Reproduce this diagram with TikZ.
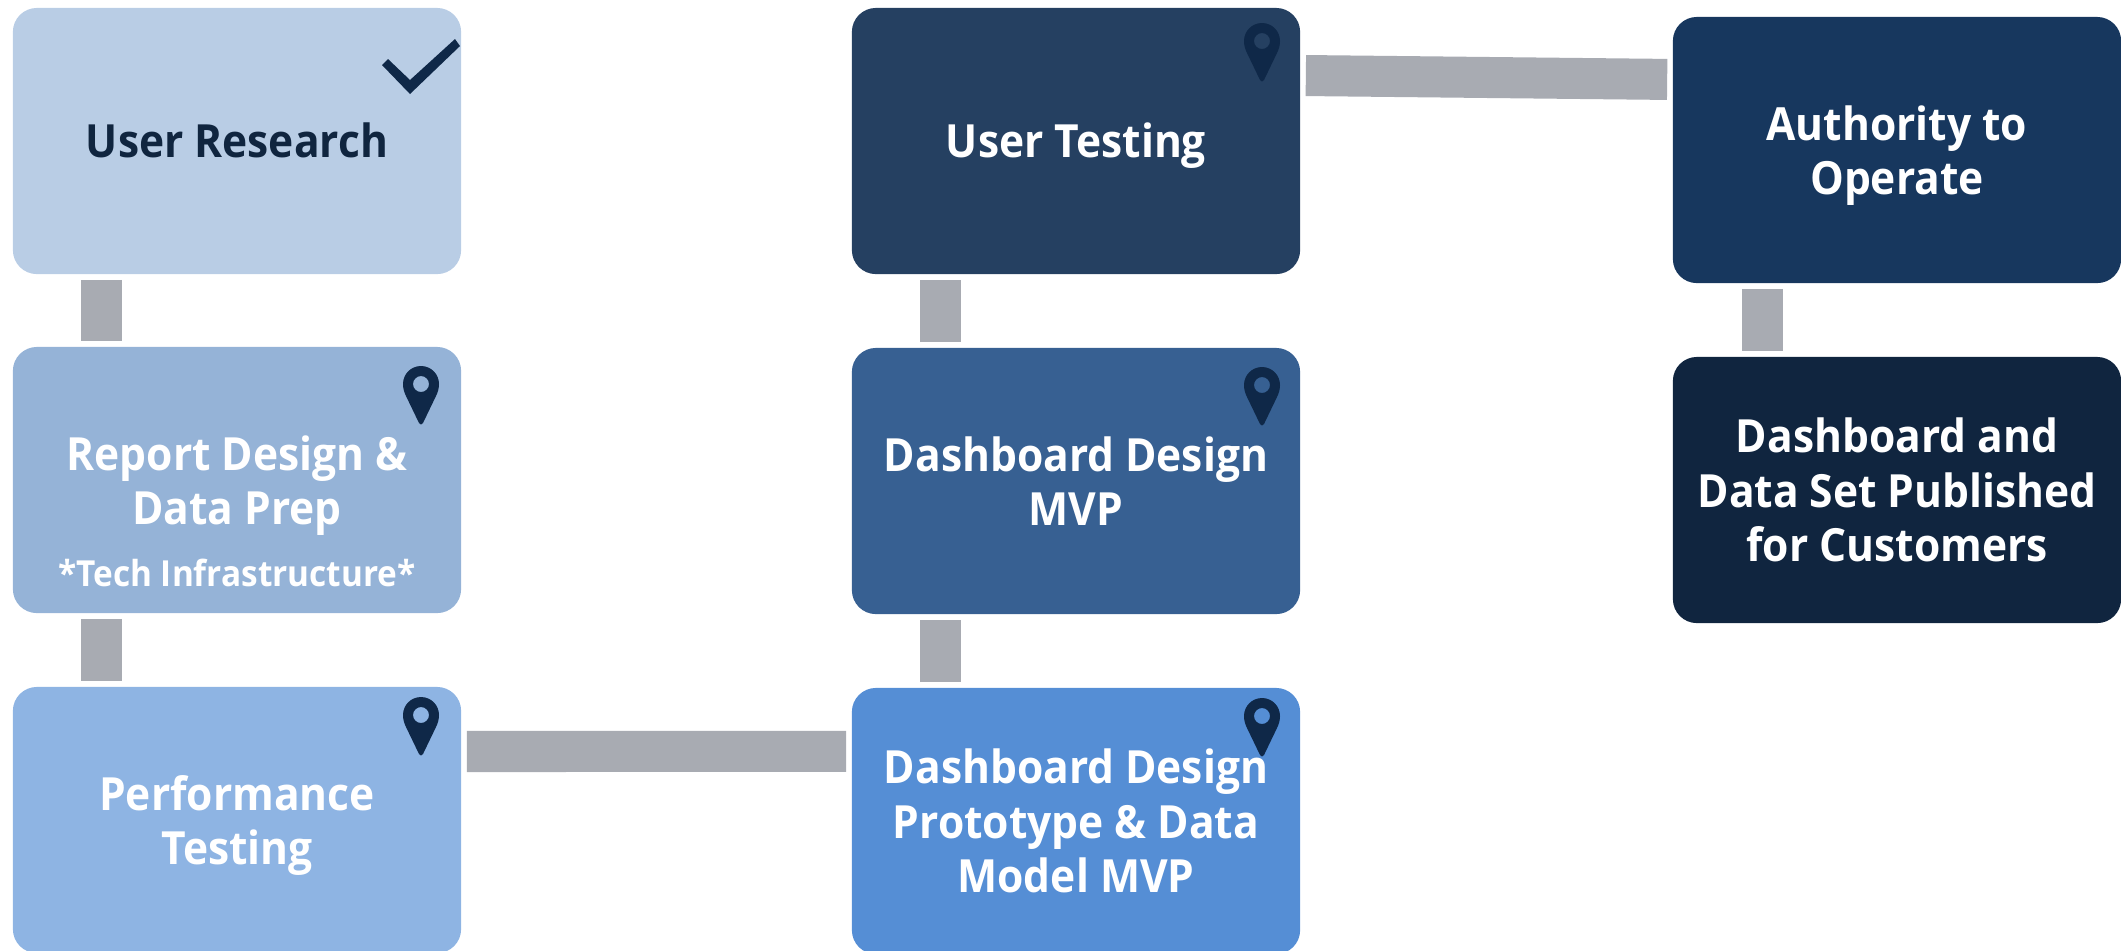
\documentclass[tikz,border=0pt]{standalone}
\usepackage{fontspec}
\setmainfont[FakeStretch=0.93]{Open Sans}
\definecolor{boxa}{HTML}{B9CDE5}
\definecolor{boxb}{HTML}{95B3D7}
\definecolor{boxc}{HTML}{8EB4E3}
\definecolor{boxd}{HTML}{558ED5}
\definecolor{boxe}{HTML}{376092}
\definecolor{boxf}{HTML}{254061}
\definecolor{boxg}{HTML}{17375E}
\definecolor{boxh}{HTML}{10253F}
\definecolor{linkgray}{HTML}{A8ABB2}
\definecolor{markcol}{HTML}{0F2848}
\begin{document}
\begin{tikzpicture}[x=0.01cm,y=-0.01cm,
		stage/.style={rounded corners=0.24cm, minimum width=4.48cm, minimum height=2.66cm, inner sep=0pt,
			align=center, text=white, font=\bfseries\fontsize{13}{15.5}\selectfont,
			execute at begin node={\rule{0pt}{13pt}}, execute at end node={\rule[-3.7pt]{0pt}{3.7pt}}},
		stacked/.style={text depth=0pt},
		note/.style={inner sep=0pt, text=white, font=\bfseries\fontsize{10.2}{12}\selectfont},
		link/.style={draw=linkgray, line width=0.41cm, shorten <=0.05cm, shorten >=0.05cm},
		pin/.pic={\fill[markcol, even odd rule] (-18,0) .. controls (-18,-10) and (-10,-18) .. (0,-18)
			.. controls (10,-18) and (18,-10) .. (18,0) .. controls (18,4) and (17,8) .. (15,12)
			-- (2,39) .. controls (1,41) and (-1,41) .. (-2,39) -- (-15,12)
			.. controls (-17,8) and (-18,4) .. (-18,0) (0,0) circle [radius=8];}]
	\useasboundingbox (0,0) rectangle (2121,950);

	\node[stage, fill=boxa, text=boxh] (research) at (237,141) {User Research};
	\node[stage, stacked, fill=boxb] (prep) at (237,480) {Report Design \&\\Data Prep};
	\node[note] (prepnote) at (237,573) {*Tech Infrastructure*};
	\node[stage, stacked, fill=boxc] (perf) at (237,820) {Performance\\Testing};

	\node[stage, stacked, fill=boxd] (proto) at (1076,821) {Dashboard Design\\Prototype \& Data\\Model MVP};
	\node[stage, stacked, fill=boxe] (mvp) at (1076,481) {Dashboard Design\\MVP};
	\node[stage, fill=boxf] (testing) at (1076,141) {User Testing};

	\node[stage, stacked, fill=boxg] (ato) at (1897,150) {Authority to\\Operate};
	\node[stage, stacked, fill=boxh] (publish) at (1897,490) {Dashboard and\\Data Set Published\\for Customers};

	\draw[link] ([xshift=-1.355cm]research.south) -- ([xshift=-1.355cm]prep.north);
	\draw[link] ([xshift=-1.355cm]prep.south) -- ([xshift=-1.355cm]perf.north);
	\draw[link] ([yshift=0.685cm]perf.east) -- ([yshift=0.695cm]proto.west);
	\draw[link] ([xshift=-1.35cm]proto.north) -- ([xshift=-1.35cm]mvp.south);
	\draw[link] ([xshift=-1.35cm]mvp.north) -- ([xshift=-1.35cm]testing.south);
	\draw[link] ([yshift=0.655cm]testing.east) -- ([yshift=0.705cm]ato.west);
	\draw[link] ([xshift=-1.345cm]ato.south) -- ([xshift=-1.345cm]publish.north);

	\fill[markcol] (382,65) -- (388,59) -- (410,80) -- (455,39) -- (460,46) -- (410,94) -- cycle;
	\pic at (421,384) {pin};
	\pic at (421,715) {pin};
	\pic at (1262,41) {pin};
	\pic at (1262,385) {pin};
	\pic at (1262,716) {pin};
\end{tikzpicture}
\end{document}
